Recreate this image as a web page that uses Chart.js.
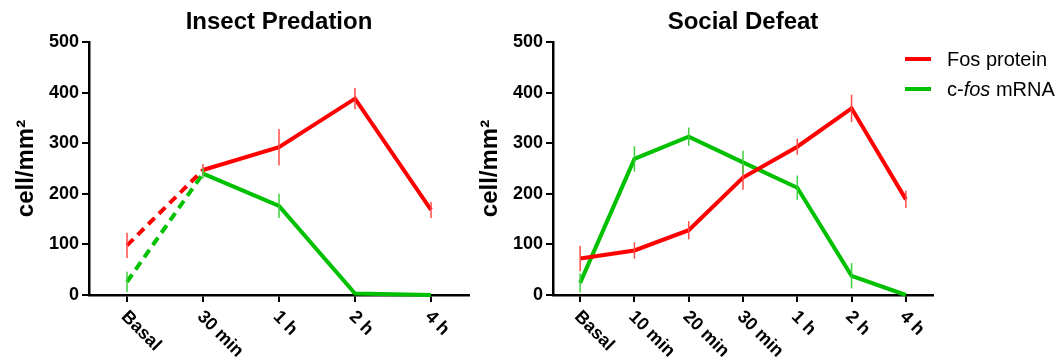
<!DOCTYPE html>
<html><head><meta charset="utf-8">
<script src="https://cdn.jsdelivr.net/npm/chart.js@4.4.1/dist/chart.umd.min.js"></script>
<style>
html,body{margin:0;padding:0;background:#fff;}
body{width:1062px;height:362px;position:relative;overflow:hidden;font-family:"Liberation Sans",Arial,sans-serif;}
canvas{position:absolute;top:0;}
#c1{left:0;}
#c2{left:464px;}
.legItem{position:absolute;left:905px;height:20px;font-size:20px;line-height:20px;color:#000;white-space:nowrap;}
.legItem .sw{position:absolute;left:0;top:8px;width:26px;height:4px;}
.legItem .tx{position:absolute;left:42px;top:0;}
</style></head><body>
<canvas id="c1" width="470" height="362"></canvas>
<canvas id="c2" width="598" height="362"></canvas>
<div id="legend"></div>
<script>
// ---- data ----
const seriesNames = ['Fos protein', 'c-fos mRNA'];
const seriesColors = ['#ff0000', '#00c000'];
const errorColors = ['#ff4a4a', '#3cd03c'];

const titleIP = 'Insect Predation';
const categoriesIP = ['Basal', '30 min', '1 h', '2 h', '4 h'];
const fosIP = [98, 247, 292, 388, 168];
const fosIPErr = [25, 12, 36, 21, 16];
const mrnaIP = [26, 240, 176, 3, 0];
const mrnaIPErr = [20, 10, 24, 0, 0];

const titleSD = 'Social Defeat';
const categoriesSD = ['Basal', '10 min', '20 min', '30 min', '1 h', '2 h', '4 h'];
const fosSD = [72, 88, 128, 232, 293, 369, 189];
const fosSDErr = [25, 16, 18, 24, 16, 27, 17];
const mrnaSD = [24, 269, 313, 262, 212, 38, 0];
const mrnaSDErr = [19, 25, 18, 23, 24, 25, 0];

const yTicks = [0, 100, 200, 300, 400, 500];
const yTitle = 'cell/mm²';

// ---- rendering ----
const FONT = '"Liberation Sans", Arial, Helvetica, sans-serif';
Chart.defaults.font.family = FONT;
Chart.defaults.color = '#000';

const errorBarPlugin = {
  id: 'errorBars',
  afterDatasetsDraw(chart) {
    const ctx = chart.ctx;
    const xs = chart.scales.x, ys = chart.scales.y;
    chart.data.datasets.forEach((ds) => {
      if (!ds.errors) return;
      ctx.save();
      ctx.strokeStyle = ds.errorColor;
      ctx.lineWidth = 1.5;
      ds.data.forEach((v, i) => {
        const e = ds.errors[i];
        if (!e) return;
        const x = xs.getPixelForValue(i);
        ctx.beginPath();
        ctx.moveTo(x, ys.getPixelForValue(v + e));
        ctx.lineTo(x, ys.getPixelForValue(v - e));
        ctx.stroke();
      });
      ctx.restore();
    });
  }
};

const rotatedXLabels = {
  id: 'rotatedXLabels',
  afterDraw(chart) {
    const ctx = chart.ctx, xs = chart.scales.x;
    ctx.save();
    ctx.font = 'bold 18px ' + FONT;
    ctx.fillStyle = '#000';
    ctx.textAlign = 'left';
    ctx.textBaseline = 'middle';
    chart.data.labels.forEach((lab, i) => {
      const x = xs.getPixelForTick(i);
      ctx.save();
      ctx.translate(x - 3, xs.top + 19);
      ctx.rotate(Math.PI / 4);
      ctx.fillText(lab, 0, 0);
      ctx.restore();
    });
    ctx.restore();
  }
};

function makeChart(id, title, cats, fos, fosErr, mrna, mrnaErr, dashFirst, padRight) {
  const seg = dashFirst ? { borderDash: c => c.p0DataIndex === 0 ? [9, 6] : undefined } : {};
  const mk = (k, data, err) => ({
    label: seriesNames[k], data: data, errors: err, errorColor: errorColors[k],
    borderColor: seriesColors[k], backgroundColor: seriesColors[k],
    borderWidth: 4, pointRadius: 0, pointHoverRadius: 0, tension: 0, clip: false,
    segment: seg
  });
  return new Chart(document.getElementById(id), {
    type: 'line',
    data: { labels: cats, datasets: [mk(0, fos, fosErr), mk(1, mrna, mrnaErr)] },
    options: {
      responsive: false, animation: false, devicePixelRatio: 1,
      layout: { padding: { left: 0, right: padRight, top: 0, bottom: 0 } },
      plugins: {
        legend: { display: false }, tooltip: { enabled: false },
        title: { display: true, text: title, fullSize: false, color: '#000',
          font: { size: 24, weight: 'bold' }, padding: { top: 8, bottom: 5.2 } }
      },
      scales: {
        x: {
          type: 'category', offset: true,
          ticks: { display: false },
          grid: { offset: false, drawOnChartArea: false, drawTicks: true, tickLength: 7, color: '#000', lineWidth: 2 },
          border: { display: true, color: '#000', width: 2.5 },
          afterFit: s => { s.height = 67; }
        },
        y: {
          min: yTicks[0], max: yTicks[yTicks.length - 1],
          afterBuildTicks: s => { s.ticks = yTicks.map(v => ({ value: v })); },
          ticks: { font: { size: 18, weight: 'bold' }, color: '#000', padding: 3 },
          grid: { drawOnChartArea: false, drawTicks: true, tickLength: 7, color: '#000', lineWidth: 2 },
          border: { display: true, color: '#000', width: 2.5 },
          title: { display: true, text: yTitle, color: '#000', font: { size: 24, weight: 'bold' }, padding: { top: 11.5, bottom: 0 } },
          afterFit: s => { s.width = 89; }
        }
      }
    },
    plugins: [errorBarPlugin, rotatedXLabels]
  });
}

makeChart('c1', titleIP, categoriesIP, fosIP, fosIPErr, mrnaIP, mrnaIPErr, true, 1);
makeChart('c2', titleSD, categoriesSD, fosSD, fosSDErr, mrnaSD, mrnaSDErr, false, 129);

// HTML legend
const leg = document.getElementById('legend');
const legTops = [49, 79];
seriesNames.forEach((n, k) => {
  const d = document.createElement('div');
  d.className = 'legItem';
  d.style.top = legTops[k] + 'px';
  const sw = document.createElement('div');
  sw.className = 'sw'; sw.style.background = seriesColors[k];
  const tx = document.createElement('div');
  tx.className = 'tx';
  const m = n.match(/^(c-)(fos)(.*)$/);
  if (m) {
    tx.appendChild(document.createTextNode(m[1]));
    const it = document.createElement('i'); it.textContent = m[2];
    tx.appendChild(it);
    tx.appendChild(document.createTextNode(m[3]));
  } else tx.textContent = n;
  d.appendChild(sw); d.appendChild(tx);
  leg.appendChild(d);
});
</script>
</body></html>
